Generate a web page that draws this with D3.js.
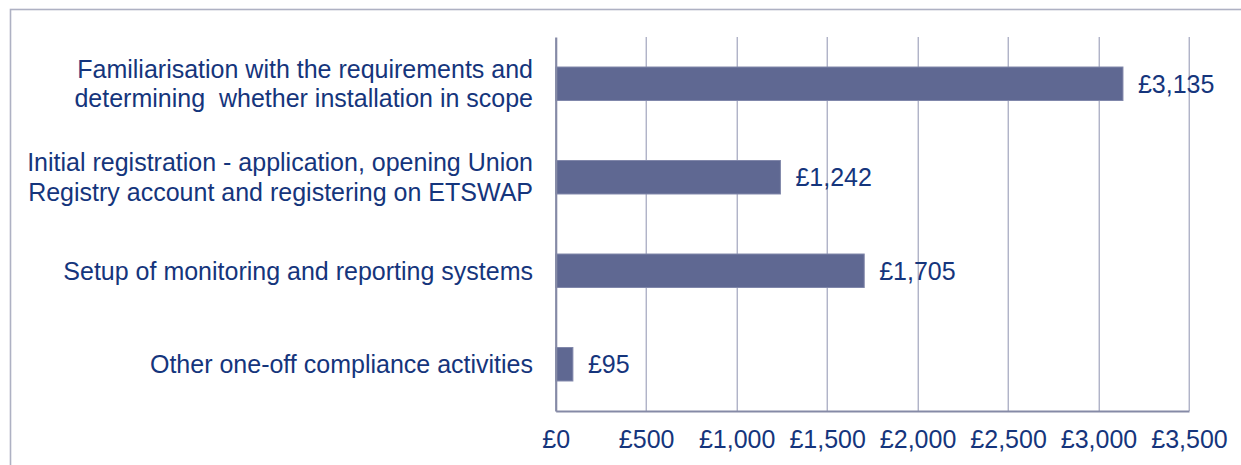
<!DOCTYPE html>
<html>
<head>
<meta charset="utf-8">
<script src="https://cdn.jsdelivr.net/npm/d3@7"></script>
<style>
  body { margin: 0; background: #fff; }
  text { font-family: "Liberation Sans", Arial, sans-serif; white-space: pre; }
</style>
</head>
<body>
<div id="chart"></div>
<script>
// one-off compliance cost per activity, £
var categories = [
  ["Familiarisation with the requirements and", "determining  whether installation in scope"],
  ["Initial registration - application, opening Union", "Registry account and registering on ETSWAP"],
  ["Setup of monitoring and reporting systems"],
  ["Other one-off compliance activities"]
];
var costs = [3135, 1242, 1705, 95];
var tickValues = [0, 500, 1000, 1500, 2000, 2500, 3000, 3500];

var W = 1241, H = 465;
var margin = {top: 37, right: 52, bottom: 54, left: 555.7};
var width = W - margin.left - margin.right,
    height = H - margin.top - margin.bottom;

var textColor = "#15357c",
    barColor = "#5f6892",
    gridColor = "#8e93b0";

var svg = d3.select("#chart").append("svg")
    .attr("width", W)
    .attr("height", H);

// outer frame, cut by the window on the right and bottom
svg.append("rect")
    .attr("x", 10.5).attr("y", 9.5)
    .attr("width", W + 20).attr("height", H + 20)
    .attr("fill", "none")
    .attr("stroke", "#aeb1c3")
    .attr("stroke-width", 1.6);

var g = svg.append("g")
    .attr("transform", "translate(" + margin.left + "," + margin.top + ")");

var keys = d3.range(categories.length);

var y = d3.scaleBand()
    .domain(keys)
    .range([0, height])
    .paddingInner(0.642)
    .paddingOuter(0.321);

var x = d3.scaleLinear()
    .domain([0, 3500])
    .range([0, width]);

// gridlines
g.append("g")
  .selectAll("line")
  .data(tickValues.slice(1))
  .enter().append("line")
    .attr("x1", function(d) { return Math.round(x(d)) + 0.5; })
    .attr("x2", function(d) { return Math.round(x(d)) + 0.5; })
    .attr("y1", 0)
    .attr("y2", height)
    .attr("stroke", gridColor)
    .attr("stroke-width", 1);

// bars
g.append("g")
  .selectAll("rect")
  .data(costs)
  .enter().append("rect")
    .attr("x", x(0))
    .attr("y", function(d, i) { return y(i); })
    .attr("width", function(d) { return x(d) - x(0); })
    .attr("height", y.bandwidth())
    .attr("fill", barColor)
    .attr("stroke", "#8087aa")
    .attr("stroke-width", 1);

// value labels
g.append("g")
  .selectAll("text")
  .data(costs)
  .enter().append("text")
    .attr("x", function(d) { return x(d) + 15; })
    .attr("y", function(d, i) { return y(i) + y.bandwidth() / 2; })
    .attr("dy", "0.35em")
    .attr("fill", textColor)
    .attr("font-size", 25)
    .text(function(d) { return "£" + d3.format(",")(d); });

// bottom axis
var xAxis = g.append("g")
    .attr("transform", "translate(0," + height + ")")
    .call(d3.axisBottom(x)
      .tickValues(tickValues)
      .tickSize(0)
      .tickPadding(19)
      .tickFormat(function(d) { return "£" + d3.format(",")(d); }));

xAxis.select(".domain")
    .attr("stroke", "#858aa6")
    .attr("stroke-width", 2.2);
xAxis.selectAll("text")
    .attr("fill", textColor)
    .attr("font-size", 25)
    .attr("font-family", "Liberation Sans, Arial, sans-serif");

// left axis with wrapped category labels
var yAxis = g.append("g")
    .call(d3.axisLeft(y).tickSize(0).tickPadding(22.7).tickFormat(""));

yAxis.select(".domain")
    .attr("stroke", "#858aa6")
    .attr("stroke-width", 2.2);

var lineH = 29.5;
yAxis.selectAll(".tick text")
    .attr("fill", textColor)
    .attr("font-size", 25)
    .attr("font-family", "Liberation Sans, Arial, sans-serif")
    .attr("dy", null)
    .each(function(d) {
      var lines = categories[d];
      var t = d3.select(this);
      lines.forEach(function(l, j) {
        t.append("tspan")
          .attr("x", -22.7)
          .attr("y", (j - (lines.length - 1) / 2) * lineH)
          .attr("dy", "0.35em")
          .text(l);
      });
    });
</script>
</body>
</html>
